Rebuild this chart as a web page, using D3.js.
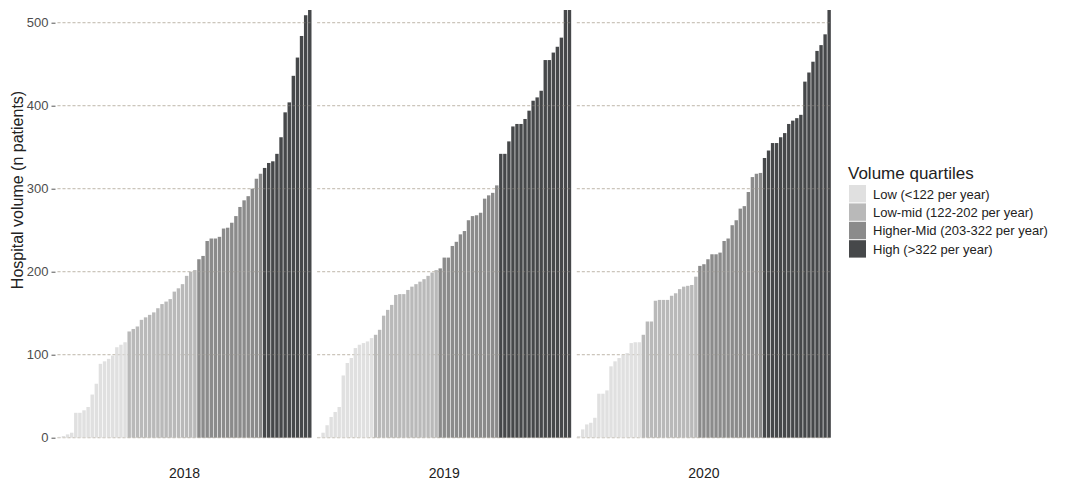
<!DOCTYPE html>
<html>
<head>
<meta charset="utf-8">
<script src="https://cdn.jsdelivr.net/npm/d3@7"></script>
<style>
  body { margin: 0; background: #fff; }
  text { font-family: "Liberation Sans", Arial, sans-serif; }
</style>
</head>
<body>
<script>
// hospital volumes per year, sorted ascending
var years = ["2018", "2019", "2020"];

var vol2018 = [1, 2, 4, 6, 30, 30, 33, 37, 52, 65, 89, 92, 95, 99, 109, 112, 115,
  128, 131, 134, 142, 145, 148, 151, 156, 161, 164, 167, 176, 180, 185, 195, 200, 202,
  215, 219, 237, 240, 240, 242, 252, 253, 259, 267, 278, 286, 291, 300, 312, 318,
  325, 331, 333, 342, 362, 392, 404, 436, 458, 484, 509, 530];

var vol2019 = [1, 6, 15, 25, 31, 37, 75, 90, 96, 108, 112, 114, 116, 120,
  124, 130, 147, 154, 160, 172, 173, 173, 178, 182, 185, 188, 191, 195, 199, 202,
  204, 217, 217, 231, 236, 245, 249, 262, 267, 268, 271, 288, 292, 295, 304,
  342, 342, 357, 375, 378, 378, 384, 394, 406, 410, 418, 455, 455, 464, 471, 482, 525, 560];

var vol2020 = [2, 10, 16, 18, 24, 53, 53, 57, 86, 92, 96, 100, 102, 114, 115, 115,
  124, 140, 140, 165, 166, 166, 166, 171, 174, 179, 182, 183, 184, 194,
  207, 209, 215, 221, 221, 223, 237, 240, 256, 262, 276, 279, 296, 314, 318, 319,
  337, 346, 355, 355, 362, 367, 378, 382, 385, 389, 429, 440, 453, 466, 473, 486, 540];

var quartileLabels = ["Low (<122 per year)", "Low-mid (122-202 per year)",
  "Higher-Mid (203-322 per year)", "High (>322 per year)"];
var quartileBreaks = [122, 203, 323];
var yTicks = [0, 100, 200, 300, 400, 500];

var volumes = { "2018": vol2018, "2019": vol2019, "2020": vol2020 };

var width = 1067, height = 481;
var plotTop = 10, plotBottom = 437.7;

var svg = d3.select("body").append("svg")
  .attr("width", width)
  .attr("height", height);

var y = d3.scaleLinear().domain([0, 515.3]).range([plotBottom, plotTop]);

var panel = d3.scaleBand().domain(years).range([57.5, 831]).paddingInner(0.0212);

var quartile = d3.scaleThreshold().domain(quartileBreaks).range([0, 1, 2, 3]);
var fill = d3.scaleOrdinal().domain([0, 1, 2, 3])
  .range(["#e0e0e0", "#b9b9b9", "#8b8b8b", "#46484a"]);

svg.append("defs").append("clipPath").attr("id", "clip")
  .append("rect").attr("x", 0).attr("y", plotTop)
  .attr("width", width).attr("height", plotBottom - plotTop + 1);

// y axis
var yAxis = svg.append("g")
  .attr("transform", "translate(" + (panel.range()[0]) + ",0)")
  .call(d3.axisLeft(y).tickValues(yTicks).tickSize(4).tickPadding(3));
yAxis.select(".domain").remove();
yAxis.selectAll("line").attr("stroke", "#555").attr("transform", "translate(-2,0)");
yAxis.selectAll("text").attr("fill", "#4d4d4d").style("font-size", "13px")
  .attr("transform", "translate(-2,0)");

svg.append("text")
  .attr("transform", "translate(23," + 190 + ") rotate(-90)")
  .attr("text-anchor", "middle")
  .style("font-size", "16px")
  .attr("fill", "#222")
  .text("Hospital volume (n patients)");

years.forEach(function(yr) {
  var vals = volumes[yr];
  var x0 = panel(yr);
  var g = svg.append("g").attr("transform", "translate(" + x0 + ",0)");

  var x = d3.scaleBand().domain(d3.range(vals.length))
    .range([0, panel.bandwidth()]).paddingInner(0.16).paddingOuter(0.04);

  function grid(sel, op) {
    sel.append("g").selectAll("line").data(yTicks).enter().append("line")
      .attr("x1", 0).attr("x2", panel.bandwidth())
      .attr("y1", function(d) { return y(d); })
      .attr("y2", function(d) { return y(d); })
      .attr("stroke", "#c4beb2")
      .attr("stroke-dasharray", "3,2")
      .attr("opacity", op);
  }
  grid(g, 1);

  g.append("g").attr("clip-path", "url(#clip)")
    .selectAll("rect").data(vals).enter().append("rect")
    .attr("x", function(d, i) { return x(i); })
    .attr("width", x.bandwidth())
    .attr("y", function(d) { return y(d); })
    .attr("height", function(d) { return y(0) - y(d); })
    .attr("fill", function(d) { return fill(quartile(d)); });

  grid(g, 0.3);

  g.append("text")
    .attr("x", panel.bandwidth() / 2)
    .attr("y", 478)
    .attr("text-anchor", "middle")
    .style("font-size", "14px")
    .attr("fill", "#222")
    .text(yr);
});

// legend
var legend = svg.append("g").attr("transform", "translate(848,0)");
legend.append("text").attr("x", 0).attr("y", 179)
  .style("font-size", "17px").attr("fill", "#222").text("Volume quartiles");

var items = legend.selectAll("g.item").data(quartileLabels).enter().append("g")
  .attr("transform", function(d, i) { return "translate(0," + (185 + i * 18.4) + ")"; });
items.append("rect").attr("x", 1).attr("width", 17).attr("height", 17.4)
  .attr("fill", function(d, i) { return fill(i); });
items.append("text").attr("x", 25).attr("y", 13.5)
  .style("font-size", "13px").attr("fill", "#222")
  .text(function(d) { return d; });
</script>
</body>
</html>
